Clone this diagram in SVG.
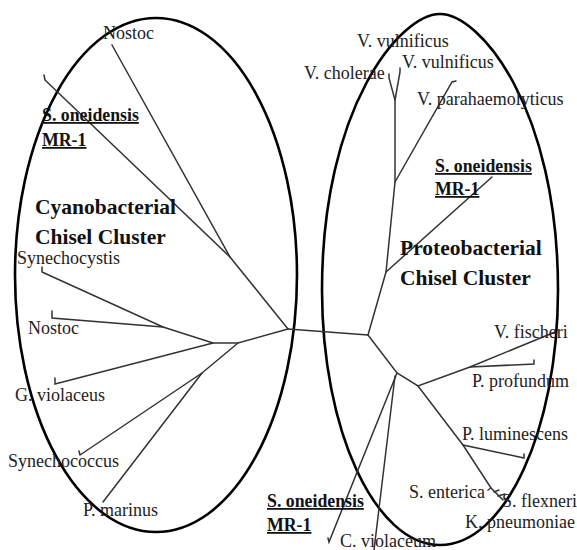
<svg xmlns="http://www.w3.org/2000/svg" width="577" height="550" viewBox="0 0 577 550">
<style>
.bg{fill:#ffffff}
.cl{fill:none;stroke:#000;stroke-width:2.6}
.br{fill:none;stroke:#333;stroke-width:1.5;stroke-linecap:round}
.lb{font-family:"Liberation Serif","Times New Roman",serif;font-size:18px;fill:#222}
.bd{font-family:"Liberation Serif","Times New Roman",serif;font-size:17.8px;font-weight:bold;fill:#111;text-decoration:underline}
.ct{font-family:"Liberation Serif","Times New Roman",serif;font-size:21.5px;font-weight:bold;fill:#111}
</style>
<rect class="bg" x="0" y="0" width="577" height="550"/>
<g id="clusters">
<ellipse id="cyano-cluster" class="cl" cx="156" cy="275" rx="141" ry="257"/>
<path id="proteo-cluster" class="cl" d="M322,290 C322,108 400,14 440,14 C480,14 558,108 558,290 C558,430 505,545 440,545 C375,545 322,430 322,290 Z"/>
</g>
<g id="connectors">
<path class="br" d="M288,329 L368,335"/>
<path class="br" d="M288,329 L230,257 L112,45"/>
<path class="br" d="M230,257 L45,80 M45,80 L44,75"/>
<path class="br" d="M288,329 L238,343 L213,343 L163,327 L42,272 M42,272 L42,267"/>
<path class="br" d="M163,327 L52,318 L52,311"/>
<path class="br" d="M213,343 L55,384 L55,378"/>
<path class="br" d="M238,343 L202,373 L80,455 M80,455 L79,451"/>
<path class="br" d="M202,373 L103,502"/>
<path class="br" d="M368,335 L386,272 L395,182 L395,100 L389,78 L389,74"/>
<path class="br" d="M395,100 L400,72 L400,68"/>
<path class="br" d="M386,272 L492,177"/>
<path class="br" d="M395,182 L452,82 L456,81"/>
<path class="br" d="M368,335 L397,373 L418,386 L470,367 L555,332"/>
<path class="br" d="M470,367 L534,364 L534,360"/>
<path class="br" d="M397,373 L329,542 L328,538"/>
<path class="br" d="M395,376 L374,550"/>
<path class="br" d="M418,386 L463,445 L524,458 L524,454"/>
<path class="br" d="M463,445 L491,488 L503,500"/>
<path class="br" d="M494,492 L499,490 M498,496 L505,494 M491,488 L488,490"/>
</g>
<g id="cyano-labels">
<g id="n-nostoc1"><text class="lb" x="103" y="39">Nostoc</text></g>
<g id="n-sone1"><text class="bd" x="42" y="121">S. oneidensis</text><text class="bd" x="42" y="146">MR-1</text></g>
<g id="n-cyano"><text class="ct" x="35" y="214">Cyanobacterial</text><text class="ct" x="35" y="244">Chisel Cluster</text></g>
<g id="n-synechocystis"><text class="lb" x="17" y="264">Synechocystis</text></g>
<g id="n-nostoc2"><text class="lb" x="28" y="334">Nostoc</text></g>
<g id="n-gviol"><text class="lb" x="15" y="401">G. violaceus</text></g>
<g id="n-synechococcus"><text class="lb" x="8" y="467">Synechococcus</text></g>
<g id="n-pmarinus"><text class="lb" x="83" y="516">P. marinus</text></g>
</g>
<g id="proteo-labels">
<g id="n-vvul1"><text class="lb" x="357" y="47">V. vulnificus</text></g>
<g id="n-vchol"><text class="lb" x="304" y="79">V. cholerae</text></g>
<g id="n-vvul2"><text class="lb" x="402" y="68">V. vulnificus</text></g>
<g id="n-vpara"><text class="lb" x="417" y="105">V. parahaemolyticus</text></g>
<g id="n-sone2"><text class="bd" x="435" y="172">S. oneidensis</text><text class="bd" x="435" y="195">MR-1</text></g>
<g id="n-proteo"><text class="ct" x="400" y="255">Proteobacterial</text><text class="ct" x="400" y="285">Chisel Cluster</text></g>
<g id="n-vfisch"><text class="lb" x="494" y="338">V. fischeri</text></g>
<g id="n-pprof"><text class="lb" x="472" y="387">P. profundum</text></g>
<g id="n-plum"><text class="lb" x="462" y="440">P. luminescens</text></g>
<g id="n-sent"><text class="lb" x="409" y="498">S. enterica</text></g>
<g id="n-sflex"><text class="lb" x="502" y="507">S. flexneri</text></g>
<g id="n-kpneu"><text class="lb" x="465" y="528">K. pneumoniae</text></g>
<g id="n-sone3"><text class="bd" x="267" y="507">S. oneidensis</text><text class="bd" x="267" y="531">MR-1</text></g>
<g id="n-cviol"><text class="lb" x="340" y="547">C. violaceum</text></g>
</g>
</svg>
